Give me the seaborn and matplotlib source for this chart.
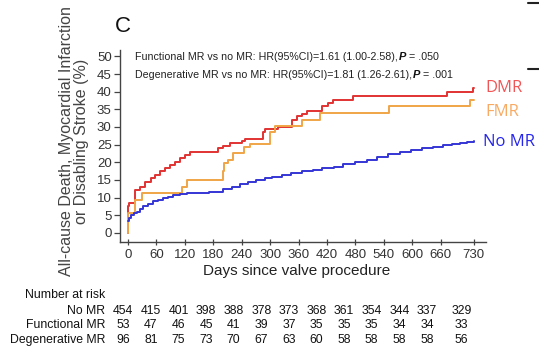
import numpy as np
import pandas as pd
import matplotlib
matplotlib.use("Agg")
import matplotlib.pyplot as plt
from matplotlib.lines import Line2D
import seaborn as sns

# Kaplan-Meier style cumulative event curves
dmr_days = [0, 0.5, 3, 14, 25, 36, 48, 57, 68, 79, 89, 99, 110, 120, 131, 190, 200, 215, 240,
            247, 286, 290, 317, 346, 356, 367, 377, 409, 423, 432, 476, 673, 728, 730]
dmr_vals = [0, 7.5, 8.4, 12.2, 13.1, 14.5, 15.6, 16.4, 17.4, 18.3, 19.3, 20.2, 21.2, 22.1, 23.0,
            24.0, 24.5, 25.4, 25.9, 26.5, 28.7, 29.4, 30.1, 32.0, 33.0, 33.7, 34.6, 35.8, 36.9,
            37.6, 38.8, 39.8, 41.0, 41.0]

fmr_days = [0, 0.5, 14, 29, 114, 124, 200, 202, 212, 222, 245, 258, 300, 310, 368, 406, 551,
            723, 730]
fmr_vals = [0, 5.6, 9.4, 11.2, 13.1, 15.0, 17.4, 19.7, 20.7, 22.7, 24.3, 25.2, 28.5, 30.3, 32.0,
            33.9, 35.8, 37.7, 37.7]

nomr_days = [0, 2, 6, 12, 18, 25, 32, 42, 53, 63, 74, 85, 95, 110, 124, 150, 170, 184, 200, 219,
             236, 254, 270, 289, 305, 325, 345, 367, 390, 410, 434, 455, 480, 504, 525, 550, 574,
             598, 620, 645, 665, 685, 701, 715, 730]
nomr_vals = [3.5, 4.2, 5.1, 5.5, 6.0, 6.8, 7.5, 8.2, 8.9, 9.3, 9.8, 10.3, 10.8, 11.0, 11.2, 11.3,
             11.5, 11.7, 12.3, 13.1, 13.8, 14.5, 15.0, 15.5, 15.9, 16.4, 16.9, 17.4, 17.9, 18.3,
             18.8, 19.4, 20.1, 20.7, 21.5, 22.3, 23.0, 23.5, 23.9, 24.4, 24.8, 25.1, 25.4, 25.8,
             25.9]

x_ticks = [0, 60, 120, 180, 240, 300, 360, 420, 480, 540, 600, 660, 730]
y_ticks = list(range(0, 55, 5))

# number at risk table
risk_groups = ["No MR", "Functional MR", "Degenerative MR"]
risk_nomr = [454, 415, 401, 398, 388, 378, 373, 368, 361, 354, 344, 337, 329]
risk_fmr = [53, 47, 46, 45, 41, 39, 37, 35, 35, 35, 34, 34, 33]
risk_dmr = [96, 81, 75, 73, 70, 67, 63, 60, 58, 58, 58, 58, 56]

hr_lines = ["Functional MR vs no MR: HR(95%CI)=1.61 (1.00-2.58),",
            "Degenerative MR vs no MR: HR(95%CI)=1.81 (1.26-2.61),"]
p_texts = [" = .050", " = .001"]

df = pd.concat([
    pd.DataFrame({"day": dmr_days, "pct": dmr_vals, "group": "DMR"}),
    pd.DataFrame({"day": fmr_days, "pct": fmr_vals, "group": "FMR"}),
    pd.DataFrame({"day": nomr_days, "pct": nomr_vals, "group": "No MR"}),
])

line_cols = {"DMR": "#e23232", "FMR": "#f0a445", "No MR": "#3535d5"}
label_cols = {"DMR": "#f25555", "FMR": "#f8aa62", "No MR": "#2525ee"}

sns.set_theme(style="ticks")
plt.rcParams['font.family'] = ['Liberation Sans', 'DejaVu Sans']

W, H = 539, 353
fig = plt.figure(figsize=(W / 100, H / 100), dpi=100)
ax = fig.add_axes([120 / W, 1 - 241.7 / H, 366 / W, 191.7 / H])

sns.lineplot(data=df, x="day", y="pct", hue="group", palette=line_cols, estimator=None,
             drawstyle="steps-post", linewidth=1.4, legend=False, ax=ax)

ax.set_xlim(-17, 756)
ax.set_ylim(-2.5, 51.8)
ax.set_xticks(x_ticks)
ax.set_yticks(y_ticks)
ax.set_xlabel("")
ax.set_ylabel("")
sns.despine(ax=ax)
for s in ["left", "bottom"]:
    ax.spines[s].set_color("#444444")
    ax.spines[s].set_linewidth(1.0)
ax.tick_params(axis="y", direction="out", length=4, width=0.9, color="#444444",
               labelsize=9.5, labelcolor="#333333", pad=2)
ax.tick_params(axis="x", direction="inout", length=5, width=0.9, color="#444444",
               labelsize=9.5, labelcolor="#333333", pad=3)

def fx(px):
    return px / W

def fy(py):
    return 1 - py / H

fig.text(fx(115), fy(27), "C", fontsize=16, va="center", ha="left", color="#111111")

fig.text(fx(74), fy(141), "All-cause Death, Myocardial Infarction\nor Disabling Stroke (%)",
         rotation=90, ha="center", va="center", fontsize=11.5, linespacing=1.05, color="#444444")
fig.text(fx(296.5), fy(271), "Days since valve procedure", ha="center", va="center",
         fontsize=11, color="#222222")

# hazard ratio annotations with bold italic P
fig.canvas.draw()
renderer = fig.canvas.get_renderer()
for line, ptxt, py in zip(hr_lines, p_texts, [57, 75]):
    t = fig.text(fx(135), fy(py), line, fontsize=7.7, va="center", ha="left", color="#222222")
    bb = t.get_window_extent(renderer)
    t2 = fig.text(bb.x1 / W + 1 / W, fy(py), "P", fontsize=7.9, va="center", ha="left",
                  fontweight="bold", fontstyle="italic", color="#111111")
    bb2 = t2.get_window_extent(renderer)
    fig.text(bb2.x1 / W, fy(py), ptxt, fontsize=7.7, va="center", ha="left", color="#222222")

# curve labels
fig.text(fx(485), fy(88), "DMR", color=label_cols["DMR"], fontsize=12, va="center",
         family=["Open Sans", "DejaVu Sans"])
fig.text(fx(485), fy(112), "FMR", color=label_cols["FMR"], fontsize=12, va="center",
         family=["Open Sans", "DejaVu Sans"])
fig.text(fx(483), fy(141.5), "No MR", color=label_cols["No MR"], fontsize=12, va="center",
         family=["Open Sans", "DejaVu Sans"])

# number at risk
fig.text(fx(25), fy(295), "Number at risk", fontsize=8.8, va="center", ha="left", color="#111111")
col_x = [123.3 + 27.6 * i for i in range(12)] + [461.7]
for name, counts, py in zip(risk_groups, [risk_nomr, risk_fmr, risk_dmr], [310.7, 325, 340]):
    fig.text(fx(105), fy(py), name, fontsize=8.8, va="center", ha="right", color="#111111")
    for cx, n in zip(col_x, counts):
        fig.text(fx(cx), fy(py), str(n), fontsize=8.8, va="center", ha="center", color="#111111")

# fragments of the neighbouring panel at the right edge
for py in [3, 69]:
    fig.add_artist(Line2D([fx(528), fx(539)], [fy(py), fy(py)], color="#222222", linewidth=1.5))

fig.savefig("out.png", dpi=100)
